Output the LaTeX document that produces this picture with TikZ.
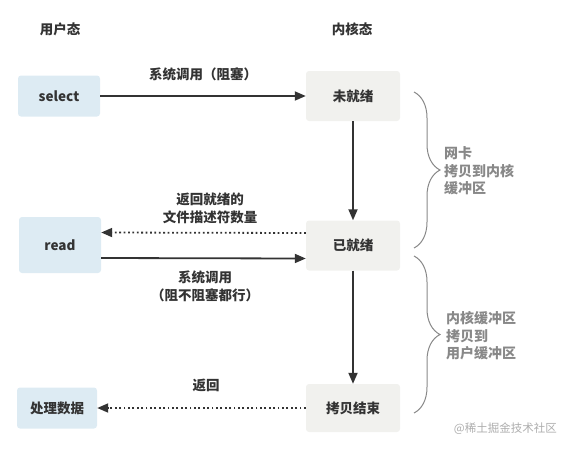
\documentclass[tikz,border=0pt]{standalone}
\usepackage{fontspec}
\setmainfont{Noto Sans CJK SC}
\usetikzlibrary{arrows.meta,decorations.pathreplacing}
\definecolor{ublue}{HTML}{DDEBF3}
\definecolor{kgray}{HTML}{F1F1EE}
\definecolor{txt}{HTML}{333333}
\definecolor{side}{HTML}{888888}
\begin{document}
\begin{tikzpicture}[x=1pt,y=-1pt,
  lbl/.style={font=\bfseries\fontsize{13.5}{18}\selectfont, text=txt, align=center, inner sep=0pt},
  ubox/.style={lbl, fill=ublue, rounded corners=3pt, minimum width=82pt, minimum height=41pt},
  kbox/.style={lbl, fill=kgray, rounded corners=3pt, minimum width=94pt, minimum height=50pt},
  tip/.style={-{Triangle[length=11pt,width=9pt]}},
  arr/.style={tip, draw=txt, line width=1.8pt},
  dotarr/.style={tip, draw=txt, line width=1.8pt, dash pattern=on 1.8pt off 2.6pt},
  sidetxt/.style={font=\bfseries\fontsize{14}{17.5}\selectfont, text=side, align=left, anchor=west, inner sep=0pt},
  brc/.style={draw=side, line width=1pt, decorate, decoration={brace, amplitude=26pt, aspect=0.5}}
]
\useasboundingbox (0,0) rectangle (569,448);

\node[lbl] (user) at (60,29) {用户态};
\node[lbl] (kern) at (352,29) {内核态};

\node[ubox] (select) at (59,96) {select};
\node[ubox, minimum height=56pt] (read) at (60,245) {read};
\node[ubox, minimum width=80pt] (proc) at (57,408) {处理数据};

\node[kbox] (wjx) at (353,96) {未就绪};
\node[kbox] (yjx) at (353,245.5) {已就绪};
\node[kbox, minimum height=48pt] (kbjs) at (353,408) {拷贝结束};

\draw[arr] (select) -- (wjx);
\node[lbl] (l1) at (203,74) {系统调用（阻塞）};

\draw[arr] (wjx) -- (yjx);

\draw[dotarr] ([yshift=12.5pt]yjx.west) -- ([yshift=12.5pt]read.east);
\node[lbl] (l2) at (210,208) {返回就绪的\\文件描述符数量};
\draw[arr] ([yshift=-13pt]read.east) -- ([yshift=-13pt]yjx.west);
\node[lbl] (l3) at (205,286) {系统调用\\（阻不阻塞都行）};

\draw[arr] (yjx) -- (kbjs);

\draw[dotarr] (kbjs) -- (proc);
\node[lbl] (l4) at (206,385) {返回};

\draw[brc] (414,92) -- (414,248);
\node[sidetxt] (s1) at (444,171) {网卡\\拷贝到内核\\缓冲区};
\draw[brc] (414,256) -- (414,413);
\node[sidetxt] (s2) at (446,336) {内核缓冲区\\拷贝到\\用户缓冲区};

\node[font=\fontsize{11.5}{12}\selectfont, text=black!32, anchor=east, inner sep=0pt] (wm) at (557,429) {@稀土掘金技术社区};
\end{tikzpicture}
\end{document}
